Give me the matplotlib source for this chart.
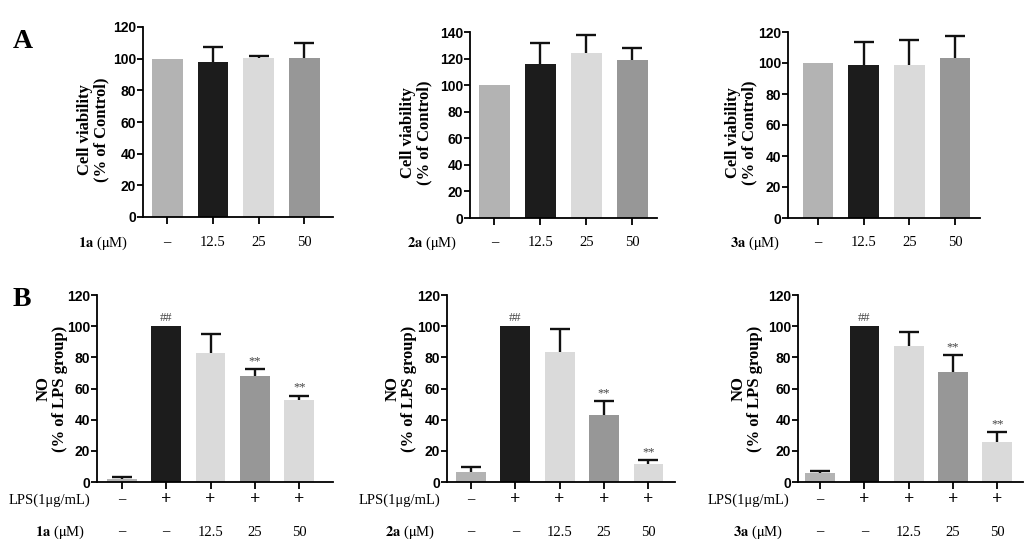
import numpy as np
import matplotlib.pyplot as plt
from matplotlib import transforms

# cell viability (panel A)
top_compounds = ['1a', '2a', '3a']
top_doses = ['\u2013', '12.5', '25', '50']
top_means = [[100, 97.7, 100.2, 100.2],
             [100, 115.8, 124.3, 118.8],
             [100, 99.0, 98.8, 103.3]]
top_errs = [[0, 9.5, 1.8, 9.8],
            [0, 16.0, 13.8, 9.5],
            [0, 14.4, 15.8, 14.3]]
top_ymax = [120, 140, 120]

# NO production (panel B)
bottom_lps = ['\u2013', '+', '+', '+', '+']
bottom_doses = ['\u2013', '\u2013', '12.5', '25', '50']
bottom_means = [[1.7, 100, 82.6, 68.1, 52.3],
                [6.2, 100, 83.5, 42.7, 11.3],
                [5.6, 100, 87.3, 70.3, 25.6]]
bottom_errs = [[1.5, 0, 12.2, 4.1, 3.2],
               [3.2, 0, 14.9, 9.4, 2.6],
               [1.7, 0, 9.2, 11.3, 6.4]]
bottom_marks = ['', '##', '', '**', '**']

top_colors = ['#b3b3b3', '#1c1c1c', '#dadada', '#979797']
bottom_colors = ['#b3b3b3', '#1c1c1c', '#dadada', '#979797', '#dadada']

plt.rcParams['mathtext.fontset'] = 'stix'
SERIF = 'Liberation Serif'
SANS = 'Liberation Sans'

W, H = 1031, 560
fig = plt.figure(figsize=(W / 100, H / 100), dpi=100)


def px_axes(left, right, top, bottom):
    return fig.add_axes([left / W, 1 - bottom / H, (right - left) / W, (bottom - top) / H])


def style(ax, ymax):
    for s in ['top', 'right']:
        ax.spines[s].set_visible(False)
    for s in ['left', 'bottom']:
        ax.spines[s].set_linewidth(1.3)
    ax.set_ylim(0, ymax)
    ax.set_yticks(np.arange(0, ymax + 1, 20))
    ax.tick_params(axis='y', length=4, width=1.3, pad=1)
    ax.tick_params(axis='x', length=5, width=1.3, labelbottom=False)
    for lab in ax.get_yticklabels():
        lab.set_fontfamily(SANS)
        lab.set_fontweight('bold')
        lab.set_fontsize(10)


def draw_bars(ax, means, errs, colors):
    x = np.arange(len(means))
    means = np.asarray(means, float)
    errs = np.asarray(errs, float)
    ax.bar(x, means, width=0.67, color=colors, zorder=2)
    # upper error bars only, skip bars without error
    m = errs > 0
    eb = ax.errorbar(x[m], means[m], yerr=[np.zeros(m.sum()), errs[m]], fmt='none',
                     ecolor='#111111', elinewidth=1.7, capsize=7.5, capthick=1.7, zorder=3)
    caps = eb.lines[1]
    if len(caps) == 2:
        caps[0].set_visible(False)
    ax.set_xticks(x)
    return x


# --- panel A ---
top_boxes = [(143, 333, 27, 217), (470, 657, 32, 218), (788, 980, 32, 218)]
top_xlim = [(-0.53, 3.63), (-0.53, 3.54), (-0.66, 3.55)]
top_ylab_x = [-0.175, -0.2, -0.158]
top_row_label_right = [128, 457, 780]
for i in range(3):
    l, r, t, b = top_boxes[i]
    ax = px_axes(l, r, t, b)
    x = draw_bars(ax, top_means[i], top_errs[i], top_colors)
    ax.set_xlim(*top_xlim[i])
    style(ax, top_ymax[i])
    ax.set_ylabel('Cell viability\n(% of Control)', fontfamily=SERIF,
                  fontweight='bold', fontsize=12, linespacing=1.05)
    ax.yaxis.set_label_coords(top_ylab_x[i], 0.46)
    tr = transforms.blended_transform_factory(ax.transData, ax.transAxes)
    yrow = (b - 243) / (b - t)
    for xi, lab in zip(x, top_doses):
        ax.text(xi, yrow, lab, transform=tr, ha='center', va='center',
                fontfamily=SERIF, fontsize=10.5)
    fig.text(top_row_label_right[i] / W, 1 - 243 / H,
             r'$\mathbf{%s}$ ($\mathrm{\mu}$M)' % top_compounds[i],
             ha='right', va='center', fontfamily=SERIF, fontsize=10.5)

# --- panel B ---
bottom_boxes = [(97, 333, 295, 482), (447, 675, 295, 482), (798, 1023, 295, 482)]
bottom_xlim = [(-0.56, 4.76), (-0.54, 4.6), (-0.5, 4.58)]
bottom_ylab_x = [-0.123, -0.132, -0.156]
lps_right = [90, 440, 789]
comp_right = [85, 435, 783]
for i in range(3):
    l, r, t, b = bottom_boxes[i]
    ax = px_axes(l, r, t, b)
    x = draw_bars(ax, bottom_means[i], bottom_errs[i], bottom_colors)
    ax.set_xlim(*bottom_xlim[i])
    style(ax, 120)
    ax.set_ylabel('NO\n(% of LPS group)', fontfamily=SERIF,
                  fontweight='bold', fontsize=12, linespacing=1.05)
    ax.yaxis.set_label_coords(bottom_ylab_x[i], 0.5)
    for xi, m, e, mark in zip(x, bottom_means[i], bottom_errs[i], bottom_marks):
        if mark:
            ax.text(xi, m + e + 1.2, mark, ha='center', va='bottom',
                    fontfamily=SERIF, fontsize=9, color='#444444')
    tr = transforms.blended_transform_factory(ax.transData, ax.transAxes)
    y_lps = (b - 500) / (b - t)
    y_dose = (b - 532) / (b - t)
    for xi, lp, d in zip(x, bottom_lps, bottom_doses):
        ax.text(xi, y_lps, lp, transform=tr, ha='center', va='center',
                fontfamily=SERIF, fontsize=13 if lp == '+' else 10.5,
                fontweight='bold' if lp == '+' else 'normal')
        ax.text(xi, y_dose, d, transform=tr, ha='center', va='center',
                fontfamily=SERIF, fontsize=10.5)
    fig.text(lps_right[i] / W, 1 - 500 / H, 'LPS(1\u03bcg/mL)',
             ha='right', va='center', fontfamily=SERIF, fontsize=10.5)
    fig.text(comp_right[i] / W, 1 - 532 / H,
             r'$\mathbf{%s}$ ($\mathrm{\mu}$M)' % top_compounds[i],
             ha='right', va='center', fontfamily=SERIF, fontsize=10.5)

fig.text(13 / W, 1 - 41 / H, 'A', fontfamily=SERIF, fontweight='bold',
         fontsize=20, ha='left', va='center')
fig.text(13 / W, 1 - 300 / H, 'B', fontfamily=SERIF, fontweight='bold',
         fontsize=20, ha='left', va='center')

fig.savefig('out.png', dpi=100)
